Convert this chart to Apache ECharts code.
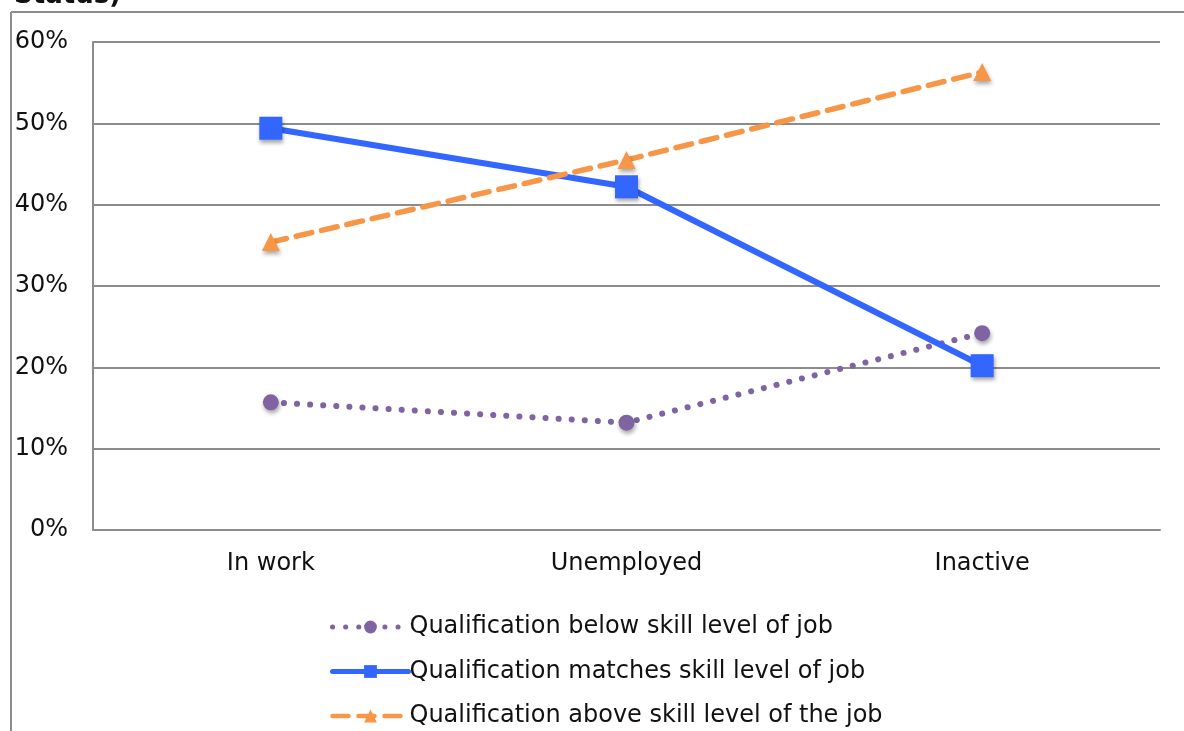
<!DOCTYPE html>
<html>
<head>
<meta charset="utf-8">
<script src="https://cdn.jsdelivr.net/npm/echarts@6/dist/echarts.min.js"></script>
<style>
html,body{margin:0;padding:0;background:#fff;}
#chart{width:1184px;height:731px;}
</style>
</head>
<body>
<div id="chart"></div>
<script>
var categories = ['In work', 'Unemployed', 'Inactive'];
var belowSkill = [15.7, 13.2, 24.2];
var matchesSkill = [49.4, 42.2, 20.2];
var aboveSkill = [35.4, 45.5, 56.3];
var seriesNames = [
  'Qualification below skill level of job',
  'Qualification matches skill level of job',
  'Qualification above skill level of the job'
];
var yTicks = {min: 0, max: 60, interval: 10};

var FONT = 'DejaVu Sans';
var FS = 24;
var chart = echarts.init(document.getElementById('chart'), null, {renderer: 'canvas'});
var shadow = {shadowBlur: 4, shadowColor: 'rgba(0,0,0,0.35)', shadowOffsetX: 1, shadowOffsetY: 3};
var styles = [
  {color: '#8064A2', width: 6, type: [0.1, 13], cap: 'round'},
  {color: '#3366FF', width: 6, type: 'solid', cap: 'round'},
  {color: '#F79646', width: 5.5, type: [16, 10], cap: 'round'}
];

chart.setOption({
  animation: false,
  backgroundColor: '#fff',
  graphic: [
    {type: 'line', shape: {x1: 11, y1: 12, x2: 11, y2: 731}, style: {stroke: '#8c8c8c', lineWidth: 2}},
    {type: 'line', shape: {x1: 11, y1: 12, x2: 1184, y2: 12}, style: {stroke: '#8c8c8c', lineWidth: 2}},
    {type: 'text', right: 1063, top: -17, style: {text: 'Status)', font: 'bold 26px "DejaVu Sans"', fill: '#111'}}
  ],
  grid: {left: 93, right: 24, top: 42, bottom: 201, containLabel: false},
  legend: {
    orient: 'vertical',
    left: 330,
    top: 615,
    height: 200,
    padding: 0,
    itemWidth: 76,
    itemHeight: 16,
    itemGap: 20.5,
    textStyle: {fontFamily: FONT, fontSize: FS, color: '#111', padding: [0, 0, 0, -4]},
    data: seriesNames.map(function (n, i) {
      return {name: n, lineStyle: {width: styles[i].width - 1, type: styles[i].type, cap: 'round', color: styles[i].color}};
    })
  },
  xAxis: {
    type: 'category',
    data: categories,
    boundaryGap: true,
    axisLine: {show: true, lineStyle: {color: '#8c8c8c', width: 2}},
    axisTick: {show: false},
    axisLabel: {fontFamily: FONT, fontSize: FS, color: '#111', margin: 22},
    splitLine: {show: false}
  },
  yAxis: {
    type: 'value',
    min: yTicks.min,
    max: yTicks.max,
    interval: yTicks.interval,
    axisLine: {show: true, lineStyle: {color: '#8c8c8c', width: 2}},
    axisTick: {show: false},
    axisLabel: {fontFamily: FONT, fontSize: FS, color: '#111', margin: 25, formatter: '{value}%'},
    splitLine: {show: true, lineStyle: {color: '#8c8c8c', width: 2}}
  },
  series: [
    {
      name: seriesNames[0], type: 'line', data: belowSkill,
      symbol: 'circle', symbolSize: 16,
      itemStyle: Object.assign({color: styles[0].color}, shadow),
      lineStyle: styles[0]
    },
    {
      name: seriesNames[1], type: 'line', data: matchesSkill,
      symbol: 'rect', symbolSize: 23,
      itemStyle: Object.assign({color: styles[1].color}, shadow),
      lineStyle: styles[1]
    },
    {
      name: seriesNames[2], type: 'line', data: aboveSkill,
      symbol: 'triangle', symbolSize: 18,
      itemStyle: Object.assign({color: styles[2].color}, shadow),
      lineStyle: styles[2]
    }
  ]
});
</script>
</body>
</html>
